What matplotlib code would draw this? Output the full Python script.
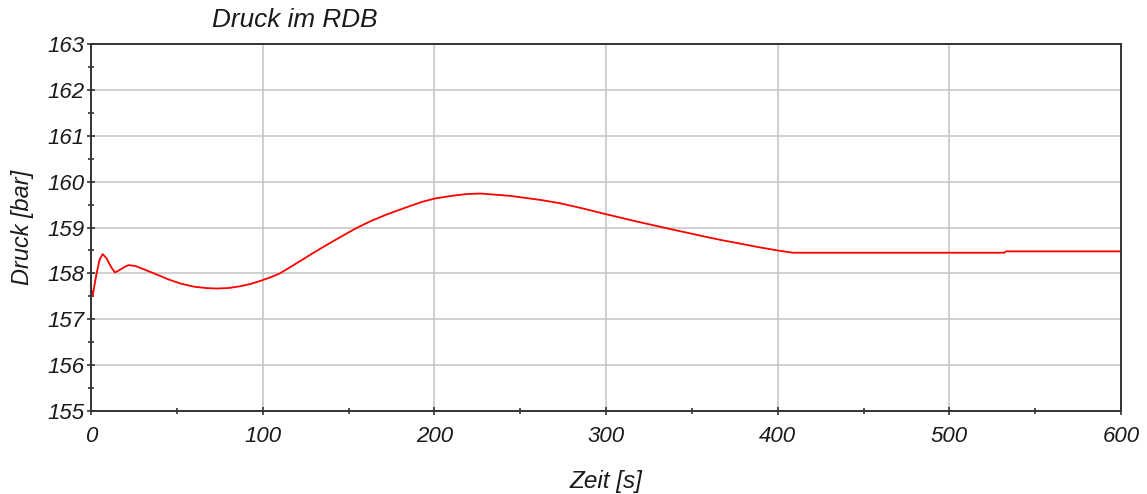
import matplotlib
matplotlib.use("Agg")
import matplotlib.pyplot as plt
from matplotlib.ticker import MultipleLocator

# Werte
zeit = [0, 1, 3, 5, 6.8, 9, 12, 14, 17, 20, 22, 26, 32, 38, 45, 52, 60, 67, 73,
        80, 87, 93, 99, 105, 110, 118, 127.5, 135, 141, 148, 154.7, 163, 172,
        180, 186, 193, 200, 210, 219, 227, 234, 244, 254, 262, 273, 286, 300,
        318, 337, 348, 359, 368, 378, 389, 400, 405, 409, 420, 450, 480, 510,
        532, 533, 560, 600]
druck = [157.66, 157.52, 157.95, 158.3, 158.42, 158.33, 158.12, 158.02, 158.08,
         158.15, 158.18, 158.16, 158.07, 157.98, 157.87, 157.78, 157.71, 157.68,
         157.67, 157.68, 157.72, 157.77, 157.84, 157.92, 158.0, 158.18, 158.4,
         158.57, 158.7, 158.85, 158.99, 159.14, 159.28, 159.39, 159.47, 159.56,
         159.63, 159.69, 159.73, 159.74, 159.72, 159.69, 159.64, 159.6, 159.53,
         159.42, 159.29, 159.13, 158.97, 158.88, 158.79, 158.72, 158.65, 158.57,
         158.5, 158.47, 158.45, 158.45, 158.45, 158.45, 158.45, 158.45, 158.48,
         158.48, 158.48]

plt.rcParams["font.family"] = ["Liberation Sans", "DejaVu Sans"]
plt.rcParams["font.style"] = "italic"

fig = plt.figure(figsize=(11.47, 4.94), dpi=100)
ax = fig.add_axes([91 / 1147, 83 / 494, 1030 / 1147, 367 / 494])

ax.plot(zeit, druck, color="#ff0000", lw=1.3)

ax.set_xlim(0, 600)
ax.set_ylim(155, 163)
ax.xaxis.set_major_locator(MultipleLocator(100))
ax.xaxis.set_minor_locator(MultipleLocator(50))
ax.yaxis.set_major_locator(MultipleLocator(1))
ax.yaxis.set_minor_locator(MultipleLocator(0.5))
ax.grid(True, which="major", color="#c8c8c8", lw=1.2)
ax.set_axisbelow(True)

for s in ax.spines.values():
    s.set_color("#333333")
    s.set_linewidth(1.4)

ax.tick_params(which="major", direction="inout", length=6, width=1.2,
               color="#333333", labelsize=16, labelcolor="#1a1a1a")
ax.tick_params(which="minor", direction="inout", length=4, width=1.2,
               color="#333333")
ax.tick_params(axis="x", pad=8)
ax.tick_params(axis="y", pad=2)

fig.text(295 / 1147, 1 - 20 / 494, "Druck im RDB", ha="center", va="center",
         fontsize=18.8, style="italic", color="#1a1a1a")
fig.text(22 / 1147, 1 - 227 / 494, "Druck [bar]", ha="center", va="center",
         rotation=90, fontsize=16.9, style="italic", color="#1a1a1a")
fig.text(606 / 1147, 1 - 481 / 494, "Zeit [s]", ha="center", va="center",
         fontsize=17.5, style="italic", color="#1a1a1a")

fig.savefig("out.png", dpi=100)
